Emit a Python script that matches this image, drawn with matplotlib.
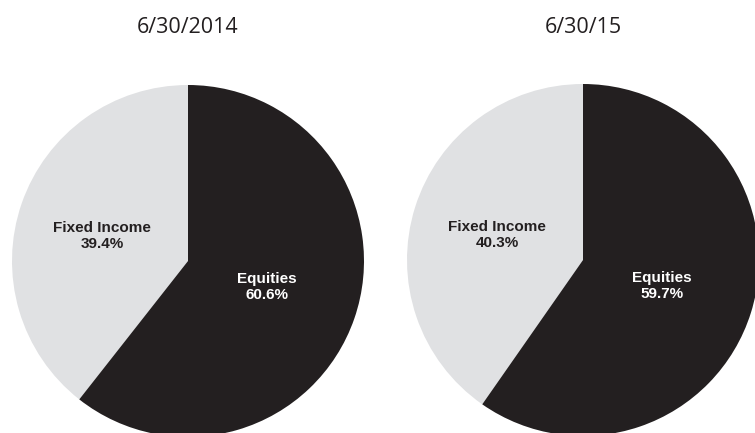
import matplotlib
matplotlib.use('Agg')
import matplotlib.pyplot as plt

# Datos
titulos = ['6/30/2014', '6/30/15']
categorias = ['Fixed Income', 'Equities']
valores_2014 = [39.4, 60.6]
valores_2015 = [40.3, 59.7]

colores = ['#e0e1e3', '#231f20']
colores_texto = ['#231f20', 'white']

fig = plt.figure(figsize=(7.55, 4.33), dpi=100)
ax = fig.add_axes([0, 0, 1, 1])

# Centros y radio en pixeles de la figura (y hacia arriba)
centros = [(188, 172), (583, 173)]
radio = 176
# Desplazamiento de las etiquetas respecto al centro (pixeles)
offsets = [(-86, 25), (79, -26)]

for titulo, valores, centro in zip(titulos, [valores_2014, valores_2015], centros):
    etiquetas = iter([f'{c}\n{v:.1f}%' for c, v in zip(categorias, valores)])
    wedges, _, autotexts = ax.pie(valores, colors=colores, startangle=90,
                                  counterclock=True, center=centro, radius=radio,
                                  autopct=lambda p: next(etiquetas),
                                  wedgeprops=dict(linewidth=0))
    for t, c, off in zip(autotexts, colores_texto, offsets):
        t.set_position((centro[0] + off[0], centro[1] + off[1]))
        t.set_color(c)
        t.set_fontfamily('Liberation Sans')
        t.set_fontstretch('normal')
        t.set_fontweight('bold')
        t.set_fontsize(11)
        t.set_linespacing(1.1)
    ax.text(centro[0], 433 - 33, titulo, ha='center', va='baseline',
            fontsize=15.5, family='Open Sans', color='#231f20')

ax.set_xlim(0, 755)
ax.set_ylim(0, 433)
ax.set_aspect('equal')
ax.axis('off')

fig.savefig('out.png', dpi=100)
